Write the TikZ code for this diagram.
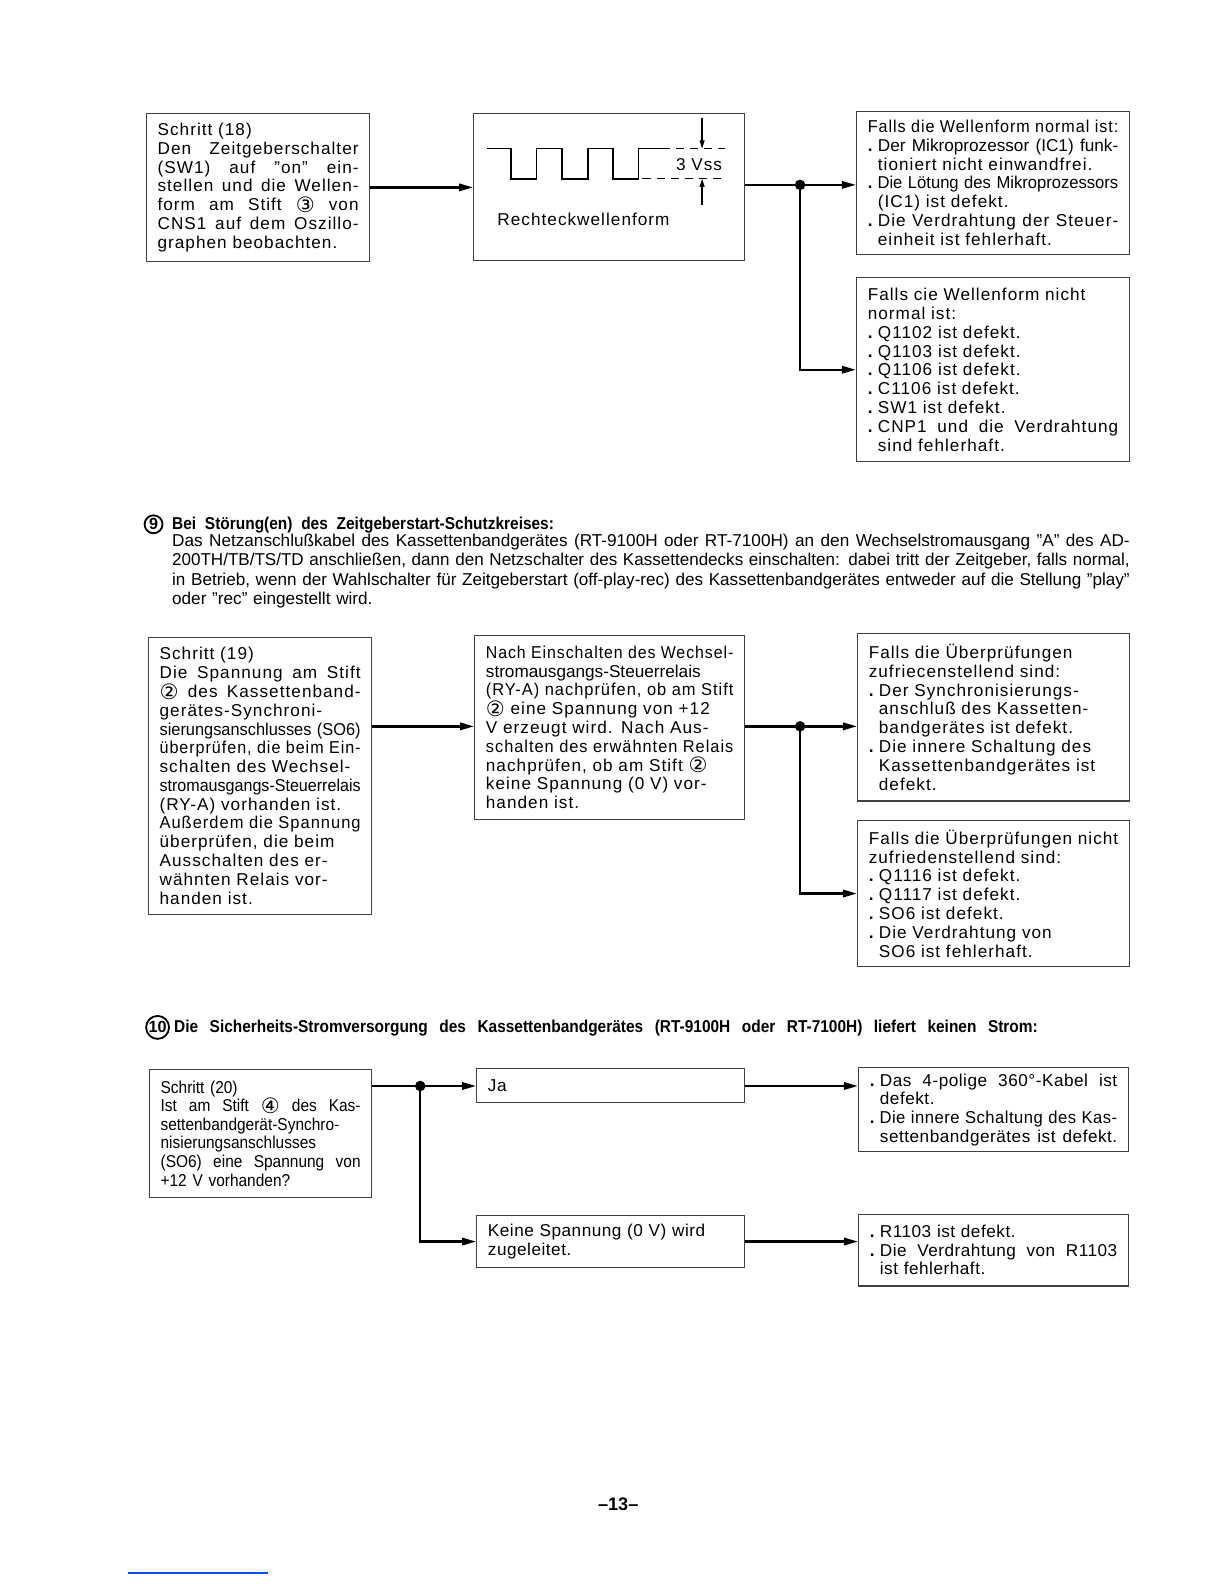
\documentclass[tikz,border=0pt]{standalone}
\usepackage{fontspec}
\usepackage{graphicx}
\setmainfont{Liberation Sans}
\newfontfamily\weit[LetterSpace=6]{Liberation Sans}
\newfontfamily\halb[LetterSpace=3]{Liberation Sans}
\newfontfamily\eng[FakeStretch=0.9]{Liberation Sans}
\newfontfamily\symb{DejaVu Sans}
\usetikzlibrary{arrows.meta, calc}
\newcommand{\grund}{\weit\fontsize{8.5}{9.3}\selectfont}
\newcommand{\klein}{\eng\fontsize{8.5}{9.2}\selectfont}
\newcommand{\mittel}{\halb\fontsize{8.5}{9.2}\selectfont}
\newcommand{\kreis}[1]{\smash{\raisebox{-0.9pt}{\symb\fontsize{10.5}{10.5}\selectfont #1}}}
\newcommand{\pkt}{\makebox[5pt][l]{\bfseries .}}
\newcommand{\ein}{\hspace*{5pt}}
% Zeile auf Satzbreite bringen (z) oder nur notfalls stauchen (q)
\newsavebox\zbox
\newcommand{\z}[1]{\sbox\zbox{#1}\ifdim\wd\zbox>\linewidth\resizebox{\linewidth}{\ht\zbox}{\usebox\zbox}\else\makebox[\linewidth][s]{\spaceskip=.3em plus 3em minus .05em #1}\fi}
\newcommand{\q}[1]{\sbox\zbox{#1}\ifdim\wd\zbox>\linewidth\resizebox{\linewidth}{\ht\zbox}{\usebox\zbox}\else\usebox\zbox\fi}

\begin{document}
\begin{tikzpicture}[
    x=0.5pt, y=-0.5pt,
    every node/.style={font=\grund},
    kasten/.style={draw=black!75, line width=0.6pt, inner xsep=5.5pt, inner ysep=2pt, align=left},
    pfeil/.style={-{Triangle[length=7pt,width=3.6pt]}, line width=1.2pt},
    linie/.style={line width=1.2pt},
    welle/.style={line width=0.9pt},
    mass/.style={-{Triangle[length=4pt,width=2.4pt]}, line width=0.6pt},
    kopf/.style={font=\eng\bfseries\fontsize{8.5}{10}\selectfont, anchor=base west, inner sep=0pt, align=left},
    nummer/.style={circle, draw, line width=0.9pt, inner sep=0.6pt, font=\bfseries\fontsize{8}{8}\selectfont}
]
    \useasboundingbox (0,0) rectangle (1212,1568);

    % Schritt 18
    \node[kasten, text width=99.5pt, minimum height=73.5pt] (b1) at (255.5,185.5)
        {Schritt (18)\\ \z{Den Zeitgeberschalter}\\ \z{(SW1) auf ”on” ein-}\\ \z{stellen und die Wellen-}\\ \z{form am Stift \kreis{③} von}\\ \z{CNS1 auf dem Oszillo-}\\ \q{graphen beobachten.}};
    \node[kasten, minimum width=134pt, minimum height=73pt] (b2) at (603,185) {};
    \node[kasten, text width=124pt, minimum height=71pt] (b3) at (983,181)
        {\z{Falls die Wellenform normal ist:}\\ \z{\rmfamily\pkt Der Mikroprozessor (IC1) funk-}\\ \q{\ein tioniert nicht einwandfrei.}\\ \z{\rmfamily\pkt Die Lötung des Mikroprozessors}\\ \ein (IC1) ist defekt.\\ \z{\pkt Die Verdrahtung der Steuer-}\\ \q{\ein einheit ist fehlerhaft.}};
    \node[kasten, text width=124pt, minimum height=91pt] (b4) at (983,366)
        {\q{Falls cie Wellenform nicht}\\ normal ist:\\ \pkt Q1102 ist defekt.\\ \pkt Q1103 ist defekt.\\ \pkt Q1106 ist defekt.\\ \pkt C1106 ist defekt.\\ \pkt SW1 ist defekt.\\ \z{\pkt CNP1 und die Verdrahtung}\\ \ein sind fehlerhaft.};

    % Rechteckwelle
    \draw[welle] (482,147) -- (506,147) -- (506,177) -- (531,177) -- (531,147) -- (556,147)
        -- (556,177) -- (582,177) -- (582,147) -- (607,147) -- (607,177) -- (632,177)
        -- (632,147) -- (655,147);
    \draw[line width=0.6pt, dash pattern=on 4pt off 3pt] (655,147) -- (718,147);
    \draw[line width=0.6pt, dash pattern=on 4pt off 3pt] (636,177) -- (718,177);
    \coordinate (m1) at (695,117);
    \coordinate (m2) at (695,203);
    \draw[mass] (m1) -- (695,147);
    \draw[mass] (m2) -- (695,177);
    \node (vss) at (692,163) {3 Vss};
    \node[anchor=west, inner sep=0pt] (rw) at (492,217) {Rechteckwellenform};

    \coordinate (k1) at (792,183);
    \draw[pfeil] (b1.east) -- (b1.east -| b2.west);
    \draw[linie] (b2.east |- k1) -- (k1);
    \draw[pfeil] (k1) -- (k1 -| b3.west);
    \draw[pfeil] (k1) |- (b4.west);
    \fill (k1) circle[radius=2.6pt];

    % Abschnitt 9
    \node[nummer] (n9) at (152,519) {9};
    \node[kopf, text width=189pt] (h9) at (170,524) {\z{Bei Störung(en) des Zeitgeberstart-Schutzkreises:}};
    \node[anchor=base west, inner sep=0pt, text width=474pt, align=left,
          font=\rmfamily\fontsize{8.5}{9.6}\selectfont] (p9) at (170,541)
        {\z{Das Netzanschlußkabel des Kassettenbandgerätes (RT-9100H oder RT-7100H) an den Wechselstromausgang ”A” des AD-}\\
         \z{200TH/TB/TS/TD anschließen, dann den Netzschalter des Kassettendecks einschalten: dabei tritt der Zeitgeber, falls normal,}\\
         \z{in Betrieb, wenn der Wahlschalter für Zeitgeberstart (off-play-rec) des Kassettenbandgerätes entweder auf die Stellung ”play”}\\
         oder ”rec” eingestellt wird.};

    % Schritt 19
    \node[kasten, text width=99.5pt, minimum height=137pt] (b5) at (257.5,768)
        {Schritt (19)\\ \z{Die Spannung am Stift}\\ \z{\kreis{②} des Kassettenband-}\\ \q{gerätes-Synchroni-}\\ \z{\rmfamily sierungsanschlusses (SO6)}\\ \z{überprüfen, die beim Ein-}\\ \q{schalten des Wechsel-}\\ \z{\rmfamily stromausgangs-Steuerrelais}\\ \q{(RY-A) vorhanden ist.}\\ \z{Außerdem die Spannung}\\ \q{überprüfen, die beim}\\ \q{Ausschalten des er-}\\ \q{wähnten Relais vor-}\\ handen ist.};
    \node[kasten, text width=122.5pt, minimum height=91pt] (b6) at (603.5,720)
        {\z{Nach Einschalten des Wechsel-}\\ \q{\rmfamily stromausgangs-Steuerrelais}\\ \z{(RY-A) nachprüfen, ob am Stift}\\ \q{\kreis{②} eine Spannung von +12}\\ \q{V erzeugt wird. Nach Aus-}\\ \z{schalten des erwähnten Relais}\\ \q{nachprüfen, ob am Stift \kreis{②}}\\ \q{keine Spannung (0 V) vor-}\\ handen ist.};
    \node[kasten, text width=123.5pt, minimum height=83pt] (b7) at (983.5,710)
        {\q{Falls die Überprüfungen}\\ \q{zufriecenstellend sind:}\\ \q{\pkt Der Synchronisierungs-}\\ \q{\ein anschluß des Kassetten-}\\ \q{\ein bandgerätes ist defekt.}\\ \q{\pkt Die innere Schaltung des}\\ \q{\ein Kassettenbandgerätes ist}\\ \ein defekt.};
    \node[kasten, text width=123.5pt, minimum height=72.5pt] (b8) at (983.5,884.5)
        {\z{Falls die Überprüfungen nicht}\\ \q{zufriedenstellend sind:}\\ \pkt Q1116 ist defekt.\\ \pkt Q1117 ist defekt.\\ \pkt SO6 ist defekt.\\ \q{\pkt Die Verdrahtung von}\\ \q{\ein SO6 ist fehlerhaft.}};

    \coordinate (k2) at (792,719);
    \draw[pfeil] (b5.east |- k2) -- (b6.west |- k2);
    \draw[linie] (b6.east |- k2) -- (k2);
    \draw[pfeil] (k2) -- (k2 -| b7.west);
    \draw[pfeil] (k2) |- (b8.west);
    \fill (k2) circle[radius=2.6pt];

    % Abschnitt 10
    \node[nummer, inner sep=0.3pt] (n10) at (156,1017) {10};
    \node[kopf, text width=427.5pt] (h10) at (172,1022) {\z{Die Sicherheits-Stromversorgung des Kassettenbandgerätes (RT-9100H oder RT-7100H) liefert keinen Strom:}};

    \node[kasten, font=\klein, text width=99pt, minimum height=63pt] (b9) at (258,1122)
        {Schritt (20)\\ \z{Ist am Stift \kreis{④} des Kas-}\\ \q{settenbandgerät-Synchro-}\\ \q{nisierungsanschlusses}\\ \z{(SO6) eine Spannung von}\\ \q{+12 V vorhanden?}};
    \node[kasten, font=\mittel, text width=121.5pt, minimum height=16.5pt] (b10) at (604.5,1074.5) {Ja};
    \node[kasten, font=\mittel, text width=122.5pt, minimum height=41.5pt] (b11) at (983.5,1098.5)
        {\z{\pkt Das 4-polige 360°-Kabel ist}\\ \ein defekt.\\ \z{\pkt Die innere Schaltung des Kas-}\\ \z{\ein settenbandgerätes ist defekt.}};
    \node[kasten, font=\mittel, text width=121.5pt, minimum height=26pt] (b12) at (604.5,1229)
        {\q{Keine Spannung (0 V) wird}\\ zugeleitet.};
    \node[kasten, font=\mittel, text width=122.5pt, minimum height=35.5pt] (b13) at (983.5,1237.5)
        {\pkt R1103 ist defekt.\\ \z{\pkt Die Verdrahtung von R1103}\\ \ein ist fehlerhaft.};

    \coordinate (k3) at (416,1075);
    \draw[linie] (b9.east |- k3) -- (k3);
    \draw[pfeil] (k3) -- (b10.west |- k3);
    \draw[pfeil] (k3) |- (b12.west);
    \draw[pfeil] (b10.east |- k3) -- (b11.west |- k3);
    \draw[pfeil] (b12.east) -- (b12.east -| b13.west);
    \fill (k3) circle[radius=2.6pt];

    \node[font=\bfseries\fontsize{9}{9}\selectfont] (seite) at (612,1489) {–13–};
    \draw[blue!70!cyan, line width=0.8pt] (127,1557) -- (265,1557);
\end{tikzpicture}
\end{document}
